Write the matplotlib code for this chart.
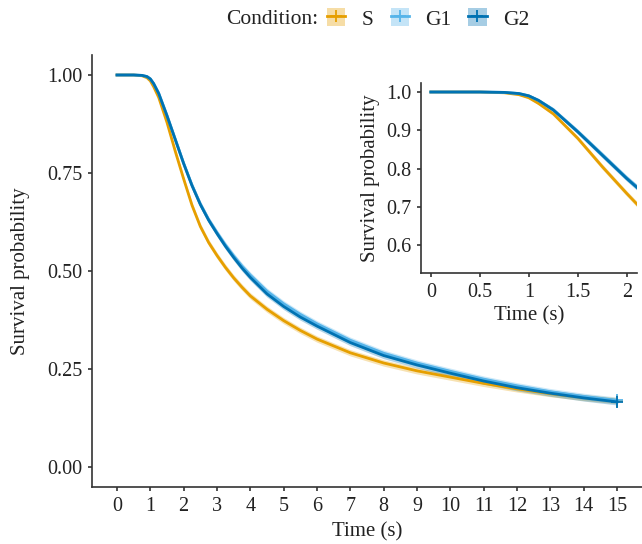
import numpy as np
import matplotlib.pyplot as plt
from matplotlib.patches import Patch
from matplotlib.lines import Line2D

plt.rcParams['font.family'] = ['Liberation Serif', 'DejaVu Serif']

time = [0, 0.5, 0.75, 0.9, 1.0, 1.1, 1.25, 1.5, 1.75, 2.0, 2.25, 2.5, 2.75, 3.0,
        3.25, 3.5, 3.75, 4.0, 4.5, 5.0, 5.5, 6.0, 7.0, 8.0, 9.0, 10.0, 11.0,
        12.0, 13.0, 14.0, 15.0]
surv_S = [1.0, 1.0, 0.998, 0.993, 0.985, 0.970, 0.943, 0.879, 0.805, 0.735,
          0.668, 0.614, 0.573, 0.540, 0.510, 0.483, 0.459, 0.437, 0.403, 0.374,
          0.349, 0.327, 0.292, 0.266, 0.246, 0.230, 0.214, 0.200, 0.188, 0.178,
          0.170]
surv_G1 = [1.0, 1.0, 0.999, 0.996, 0.990, 0.978, 0.954, 0.897, 0.836, 0.775,
           0.719, 0.671, 0.631, 0.598, 0.567, 0.539, 0.513, 0.490, 0.449, 0.417,
           0.390, 0.366, 0.324, 0.291, 0.266, 0.245, 0.225, 0.208, 0.193, 0.181,
           0.171]
surv_G2 = [1.0, 1.0, 0.999, 0.996, 0.990, 0.978, 0.953, 0.896, 0.835, 0.774,
           0.718, 0.670, 0.630, 0.596, 0.564, 0.535, 0.508, 0.484, 0.442, 0.410,
           0.383, 0.360, 0.318, 0.285, 0.261, 0.240, 0.220, 0.203, 0.189, 0.177,
           0.167]
ci_half = [0.0, 0.0, 0.001, 0.002, 0.003, 0.004, 0.005, 0.006, 0.007, 0.007,
           0.008, 0.008, 0.008, 0.008, 0.008, 0.008, 0.008, 0.008, 0.008, 0.008,
           0.008, 0.008, 0.008, 0.008, 0.008, 0.008, 0.008, 0.008, 0.008, 0.008,
           0.008]

conditions = ['S', 'G1', 'G2']
curves = [surv_S, surv_G1, surv_G2]
colors = ['#E69F00', '#56B4E9', '#0072B2']

text_col = '#222222'
axis_col = '#333333'

fig = plt.figure(figsize=(6.42, 5.44), dpi=100)
ax = fig.add_axes([0.1433, 0.1048, 0.8567, 0.7934])
ins = fig.add_axes([0.6558, 0.4982, 0.3358, 0.3485])


def draw_curves(a):
    t = np.array(time)
    ci = np.array(ci_half)
    for s, c in zip(curves, colors):
        s = np.array(s)
        a.fill_between(t, s - ci, s + ci, color=c, alpha=0.3, lw=0)
        a.plot(t, s, color=c, lw=2.0, solid_joinstyle='round')
        a.plot(t[-1], s[-1], marker='+', ms=9, mew=1.3, color=c)


def style(a):
    for side in ['top', 'right']:
        a.spines[side].set_visible(False)
    for side in ['left', 'bottom']:
        a.spines[side].set_color(axis_col)
        a.spines[side].set_linewidth(1.2)
    a.tick_params(colors=axis_col, labelcolor=text_col, labelsize=14.5,
                  length=3, width=1.2, direction='out', pad=4)
    a.set_facecolor('white')


draw_curves(ax)
style(ax)
ax.set_xlim(-0.75, 15.75)
ax.set_ylim(-0.05, 1.05)
ax.set_xticks(range(0, 16))
ax.set_yticks([0, 0.25, 0.5, 0.75, 1.0])
ax.set_yticklabels(['0.00', '0.25', '0.50', '0.75', '1.00'])
ax.set_xlabel('Time (s)', fontsize=15, color=text_col, labelpad=5)
ax.set_ylabel('Survival probability', fontsize=15, color=text_col, labelpad=12)

draw_curves(ins)
style(ins)
ins.set_xlim(-0.1, 2.1)
ins.set_ylim(0.5275, 1.0225)
ins.set_xticks([0, 0.5, 1, 1.5, 2])
ins.set_xticklabels(['0', '0.5', '1', '1.5', '2'])
ins.set_yticks([0.6, 0.7, 0.8, 0.9, 1.0])
ins.set_xlabel('Time (s)', fontsize=15, color=text_col, labelpad=3)
ins.set_ylabel('Survival probability', fontsize=15, color=text_col, labelpad=4)

# legend across the top
handles = []
for c in colors:
    box = Patch(facecolor=c, alpha=0.35, edgecolor='none')
    ln = Line2D([], [], color=c, lw=2.0, marker='+', ms=9, mew=1.3)
    handles.append((box, ln))
fig.text(318 / 642, 1 - 19 / 544, 'Condition:', ha='right', va='center',
         fontsize=15.5, color=text_col)
fig.legend(handles, conditions, loc='center left',
           bbox_to_anchor=(327 / 642, 1 - 19 / 544), ncol=3, frameon=False,
           fontsize=15.5, handlelength=0.85, handleheight=0.85,
           handletextpad=0.75, columnspacing=0.8, borderpad=0,
           borderaxespad=0, labelcolor=text_col)

fig.savefig('out.png', dpi=100)
